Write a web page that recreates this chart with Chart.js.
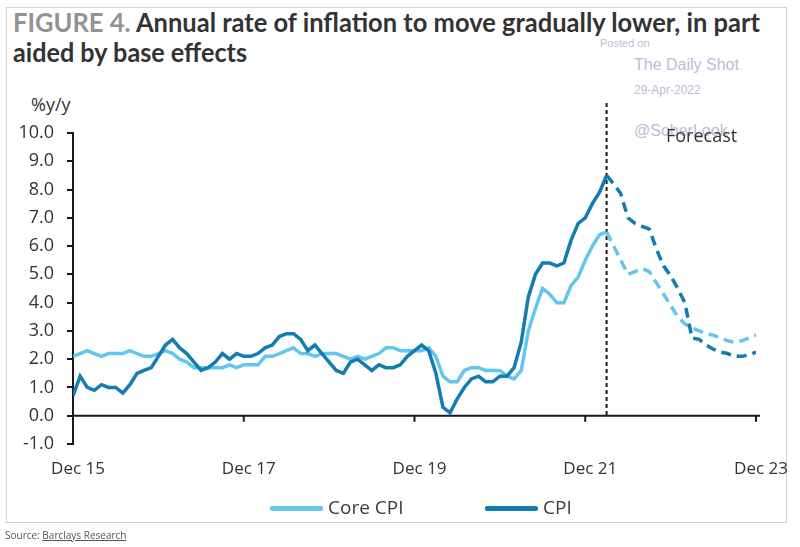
<!DOCTYPE html>
<html><head><meta charset="utf-8">
<script src="https://cdn.jsdelivr.net/npm/chart.js@4.4.1/dist/chart.umd.min.js"></script>
<style>
html,body{margin:0;padding:0;background:#fff;width:800px;height:547px;overflow:hidden;position:relative;font-family:"Open Sans",sans-serif;}
#frame{position:absolute;left:6px;top:7px;width:779px;height:514px;border:1px solid #d2d2d2;}
#wrap{position:absolute;left:0;top:0;width:800px;height:547px;}
.t{position:absolute;white-space:nowrap;}
.title{font-family:Lato,"Open Sans",sans-serif;font-weight:700;font-size:26px;line-height:26px;color:#333;transform-origin:0 0;}
.fig{color:#939393;}
.wm{font-family:"Liberation Sans",Arial,sans-serif;color:#b7bed6;}
.leg{font-size:19px;color:#3c3c3c;line-height:20px;}
.sw{position:absolute;height:5px;border-radius:2px;}
</style></head><body>
<div id="frame"></div>
<div class="t title" id="t1" style="left:13px;top:9px"><span class="fig">FIGURE 4.</span> Annual rate of inflation to move gradually lower, in part</div>
<div class="t title" id="t2" style="left:13px;top:39px">aided by base effects</div>
<div class="t wm" style="left:600px;top:37px;font-size:11px">Posted on</div>
<div class="t wm" style="left:634px;top:56px;font-size:16px">The Daily Shot</div>
<div class="t wm" style="left:634px;top:83px;font-size:12px">29-Apr-2022</div>
<div class="t wm" style="left:634px;top:122px;font-size:16px">@SoberLook</div>
<div class="t" style="left:31px;top:92px;font-size:18px;color:#333">%y/y</div>
<div id="wrap"><canvas id="c" width="800" height="547"></canvas></div>
<div class="t" style="left:666px;top:123px;font-size:18px;color:#333">Forecast</div>
<div id="legend"></div>
<div class="t" style="left:5px;top:528px;font-size:10px;color:#555">Source: <span style="text-decoration:underline">Barclays Research</span></div>
<script>
// ---- data ----
const tickIndex = [0, 24, 48, 72, 96];
const tickLabels = ['Dec 15', 'Dec 17', 'Dec 19', 'Dec 21', 'Dec 23'];
const seriesNames = ['Core CPI', 'CPI'];
const forecastStart = 75; // Mar 22
// Dec 15 .. Mar 22 (monthly)
const coreActual = [2.1,
  2.2,2.3,2.2,2.1,2.2,2.2,2.2,2.3,2.2,2.1,2.1,2.2,
  2.3,2.2,2.0,1.9,1.7,1.7,1.7,1.7,1.7,1.8,1.7,1.8,
  1.8,1.8,2.1,2.1,2.2,2.3,2.4,2.2,2.2,2.1,2.2,2.2,
  2.2,2.1,2.0,2.1,2.0,2.1,2.2,2.4,2.4,2.3,2.3,2.3,
  2.3,2.4,2.1,1.4,1.2,1.2,1.6,1.7,1.7,1.6,1.6,1.6,
  1.4,1.3,1.6,3.0,3.8,4.5,4.3,4.0,4.0,4.6,4.9,5.5,
  6.0,6.4,6.5];
const cpiActual = [0.7,
  1.4,1.0,0.9,1.1,1.0,1.0,0.8,1.1,1.5,1.6,1.7,2.1,
  2.5,2.7,2.4,2.2,1.9,1.6,1.7,1.9,2.2,2.0,2.2,2.1,
  2.1,2.2,2.4,2.5,2.8,2.9,2.9,2.7,2.3,2.5,2.2,1.9,
  1.6,1.5,1.9,2.0,1.8,1.6,1.8,1.7,1.7,1.8,2.1,2.3,
  2.5,2.3,1.5,0.3,0.1,0.6,1.0,1.3,1.4,1.2,1.2,1.4,
  1.4,1.7,2.6,4.2,5.0,5.4,5.4,5.3,5.4,6.2,6.8,7.0,
  7.5,7.9,8.5];
// Mar 22 .. Dec 23 (forecast)
const coreForecast = [6.5,6.0,5.5,5.0,5.1,5.2,5.1,4.7,4.3,3.9,3.5,3.25,3.1,3.0,2.9,2.85,2.75,2.65,2.6,2.65,2.75,2.85];
const cpiForecast = [8.5,8.2,7.85,7.0,6.8,6.7,6.6,5.9,5.3,4.95,4.5,4.0,2.75,2.7,2.5,2.35,2.25,2.2,2.1,2.1,2.15,2.25];
const colors = ['#62c6ee', '#137cb1'];

const toPts = (arr, start) => arr.map((v, i) => ({x: start + i, y: v}));

// legend (HTML)
(function(){
  const lg = document.getElementById('legend');
  const pos = [[270, 328], [485, 543]];
  seriesNames.forEach((n, i) => {
    const s = document.createElement('div');
    s.className = 'sw'; s.style.left = pos[i][0] + 'px'; s.style.top = '506px';
    s.style.width = '53px'; s.style.background = colors[i];
    lg.appendChild(s);
    const t = document.createElement('div');
    t.className = 't leg'; t.style.left = pos[i][1] + 'px'; t.style.top = '497px';
    t.textContent = n; lg.appendChild(t);
  });
})();

const axisPlugin = {
  id: 'axis0',
  beforeDatasetsDraw(chart) {
    const {ctx, chartArea: a, scales: {x, y}} = chart;
    const y0 = y.getPixelForValue(0);
    ctx.save();
    ctx.strokeStyle = '#1a1a1a'; ctx.lineWidth = 2;
    ctx.beginPath();
    ctx.moveTo(a.left, y0); ctx.lineTo(a.right + 4, y0);
    tickIndex.forEach(v => { const px = x.getPixelForValue(v); ctx.moveTo(px, y0); ctx.lineTo(px, y0 + 6); });
    ctx.stroke();
    const fx = x.getPixelForValue(forecastStart);
    ctx.setLineDash([4, 3]);
    ctx.beginPath(); ctx.moveTo(fx, y.getPixelForValue(10) - 30); ctx.lineTo(fx, y0); ctx.stroke();
    ctx.restore();
  }
};

const lineDs = (label, data, color, order, dashed) => ({
  label, data, borderColor: color, backgroundColor: color, borderWidth: 3.5,
  pointRadius: 0, tension: 0, order, borderDash: dashed ? [10, 6] : [], fill: false
});

new Chart(document.getElementById('c'), {
  type: 'line',
  data: {
    datasets: [
      lineDs(seriesNames[0], toPts(coreActual, 0), colors[0], 2, false),
      lineDs(seriesNames[1], toPts(cpiActual, 0), colors[1], 1, false),
      lineDs(seriesNames[0] + ' forecast', toPts(coreForecast, forecastStart), colors[0], 2, true),
      lineDs(seriesNames[1] + ' forecast', toPts(cpiForecast, forecastStart), colors[1], 1, true)
    ]
  },
  options: {
    responsive: false, animation: false, devicePixelRatio: 1,
    layout: {padding: {top: 133, left: 0, right: 44, bottom: 53}},
    plugins: {legend: {display: false}, tooltip: {enabled: false}},
    scales: {
      x: {
        type: 'linear', min: 0, max: 96,
        grid: {display: false, drawTicks: false},
        border: {display: false},
        afterBuildTicks: s => { s.ticks = tickIndex.map(v => ({value: v})); },
        afterFit: s => { s.height = 50; },
        ticks: {
          autoSkip: false, maxRotation: 0, padding: 15, labelOffset: 5,
          color: '#333', font: {family: 'Open Sans', size: 17},
          callback: v => tickLabels[tickIndex.indexOf(v)]
        }
      },
      y: {
        min: -1, max: 10,
        afterFit: s => { s.width = 73; },
        grid: {drawOnChartArea: false, drawTicks: true, tickLength: 6, color: '#1a1a1a', lineWidth: 2},
        border: {display: true, color: '#1a1a1a', width: 2},
        ticks: {stepSize: 1, padding: 13, color: '#333', font: {family: 'Open Sans', size: 18},
          callback: v => Number(v).toFixed(1)}
      }
    }
  },
  plugins: [axisPlugin]
});

// fit title widths
function fit(){
  [['t1', 747], ['t2', 234]].forEach(([id, w]) => {
    const el = document.getElementById(id);
    el.style.transform = 'none';
    const cw = el.getBoundingClientRect().width;
    el.style.transform = 'scaleX(' + (w / cw) + ')';
  });
}
fit();
if (document.fonts && document.fonts.ready) document.fonts.ready.then(fit);
</script>
</body></html>
